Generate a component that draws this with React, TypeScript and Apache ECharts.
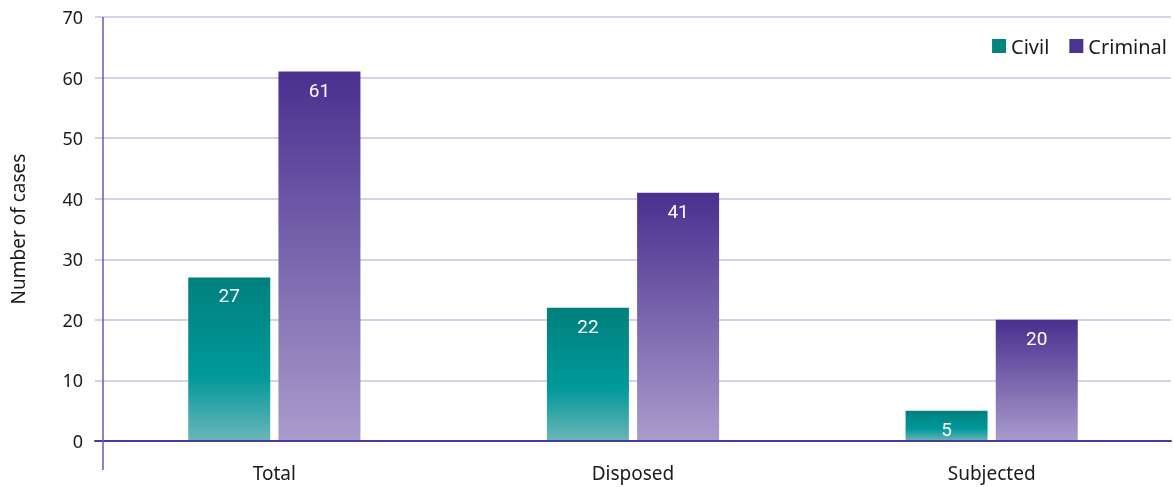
import React, { useEffect, useRef } from "react";
import * as echarts from "echarts";

const categories = ["Total", "Disposed", "Subjected"];
const civilCases = [27, 22, 5];
const criminalCases = [61, 41, 20];
const yTicks = { min: 0, max: 70, interval: 10 };

const FONT = "'Noto Sans', Roboto, sans-serif";
const LABEL_FONT = "Roboto, 'Noto Sans', sans-serif";
const TEXT = "#1a1a1a";
const AXIS_PURPLE = "#6A58B0";

const civilGradient = new echarts.graphic.LinearGradient(0, 0, 0, 1, [
  { offset: 0, color: "#00807D" },
  { offset: 0.6, color: "#00989A" },
  { offset: 1, color: "#6BB6B8" },
]);

const criminalGradient = new echarts.graphic.LinearGradient(0, 0, 0, 1, [
  { offset: 0, color: "#4A2F8F" },
  { offset: 1, color: "#A99CCC" },
]);

const barLabel = {
  show: true,
  position: "insideTop" as const,
  distance: 9,
  color: "#ffffff",
  fontSize: 19,
  fontFamily: LABEL_FONT,
};

export default function App() {
  const ref = useRef<HTMLDivElement>(null);

  useEffect(() => {
    if (!ref.current) return;
    const chart = echarts.init(ref.current, undefined, { renderer: "svg" });
    chart.setOption({
      animation: false,
      grid: { left: 91, right: 3, top: 17, bottom: 46, containLabel: false },
      legend: {
        right: 2,
        top: 31,
        itemWidth: 14,
        itemHeight: 14,
        itemGap: 20,
        icon: "rect",
        textStyle: { fontSize: 20, color: TEXT, fontFamily: FONT },
        data: [
          { name: "Civil", itemStyle: { color: "#00857F" } },
          { name: "Criminal", itemStyle: { color: "#4B3391" } },
        ],
      },
      xAxis: {
        type: "category",
        data: categories,
        axisLine: { show: true, lineStyle: { color: "#4B3A96", width: 2 } },
        axisTick: { show: false },
        axisLabel: {
          color: TEXT,
          fontSize: 19,
          fontFamily: FONT,
          margin: 22,
        },
        z: 5,
      },
      yAxis: {
        type: "value",
        min: yTicks.min,
        max: yTicks.max,
        interval: yTicks.interval,
        offset: -12,
        name: "Number of cases",
        nameLocation: "middle",
        nameGap: 80,
        nameTextStyle: { fontSize: 19, color: TEXT, fontFamily: FONT },
        axisLine: { show: false },
        axisTick: { show: false },
        axisLabel: {
          color: TEXT,
          fontSize: 18,
          fontFamily: FONT,
          margin: 24,
        },
        splitLine: { show: true, lineStyle: { color: "#C9C1E1", width: 1.5 } },
      },
      graphic: [
        {
          // vertical axis rule, running a little below the zero line
          type: "line",
          z: 10,
          shape: { x1: 103, y1: 17, x2: 103, y2: 470 },
          style: { stroke: AXIS_PURPLE, lineWidth: 1.5 },
        },
      ],
      series: [
        {
          name: "Civil",
          type: "bar",
          data: civilCases,
          barWidth: 82,
          barGap: "10%",
          itemStyle: { color: civilGradient },
          label: barLabel,
        },
        {
          name: "Criminal",
          type: "bar",
          data: criminalCases,
          barWidth: 82,
          barGap: "10%",
          itemStyle: { color: criminalGradient },
          label: barLabel,
        },
      ],
    });
    return () => chart.dispose();
  }, []);

  return (
    <div
      ref={ref}
      style={{ position: "fixed", left: 0, top: 0, width: 1174, height: 487 }}
    />
  );
}
